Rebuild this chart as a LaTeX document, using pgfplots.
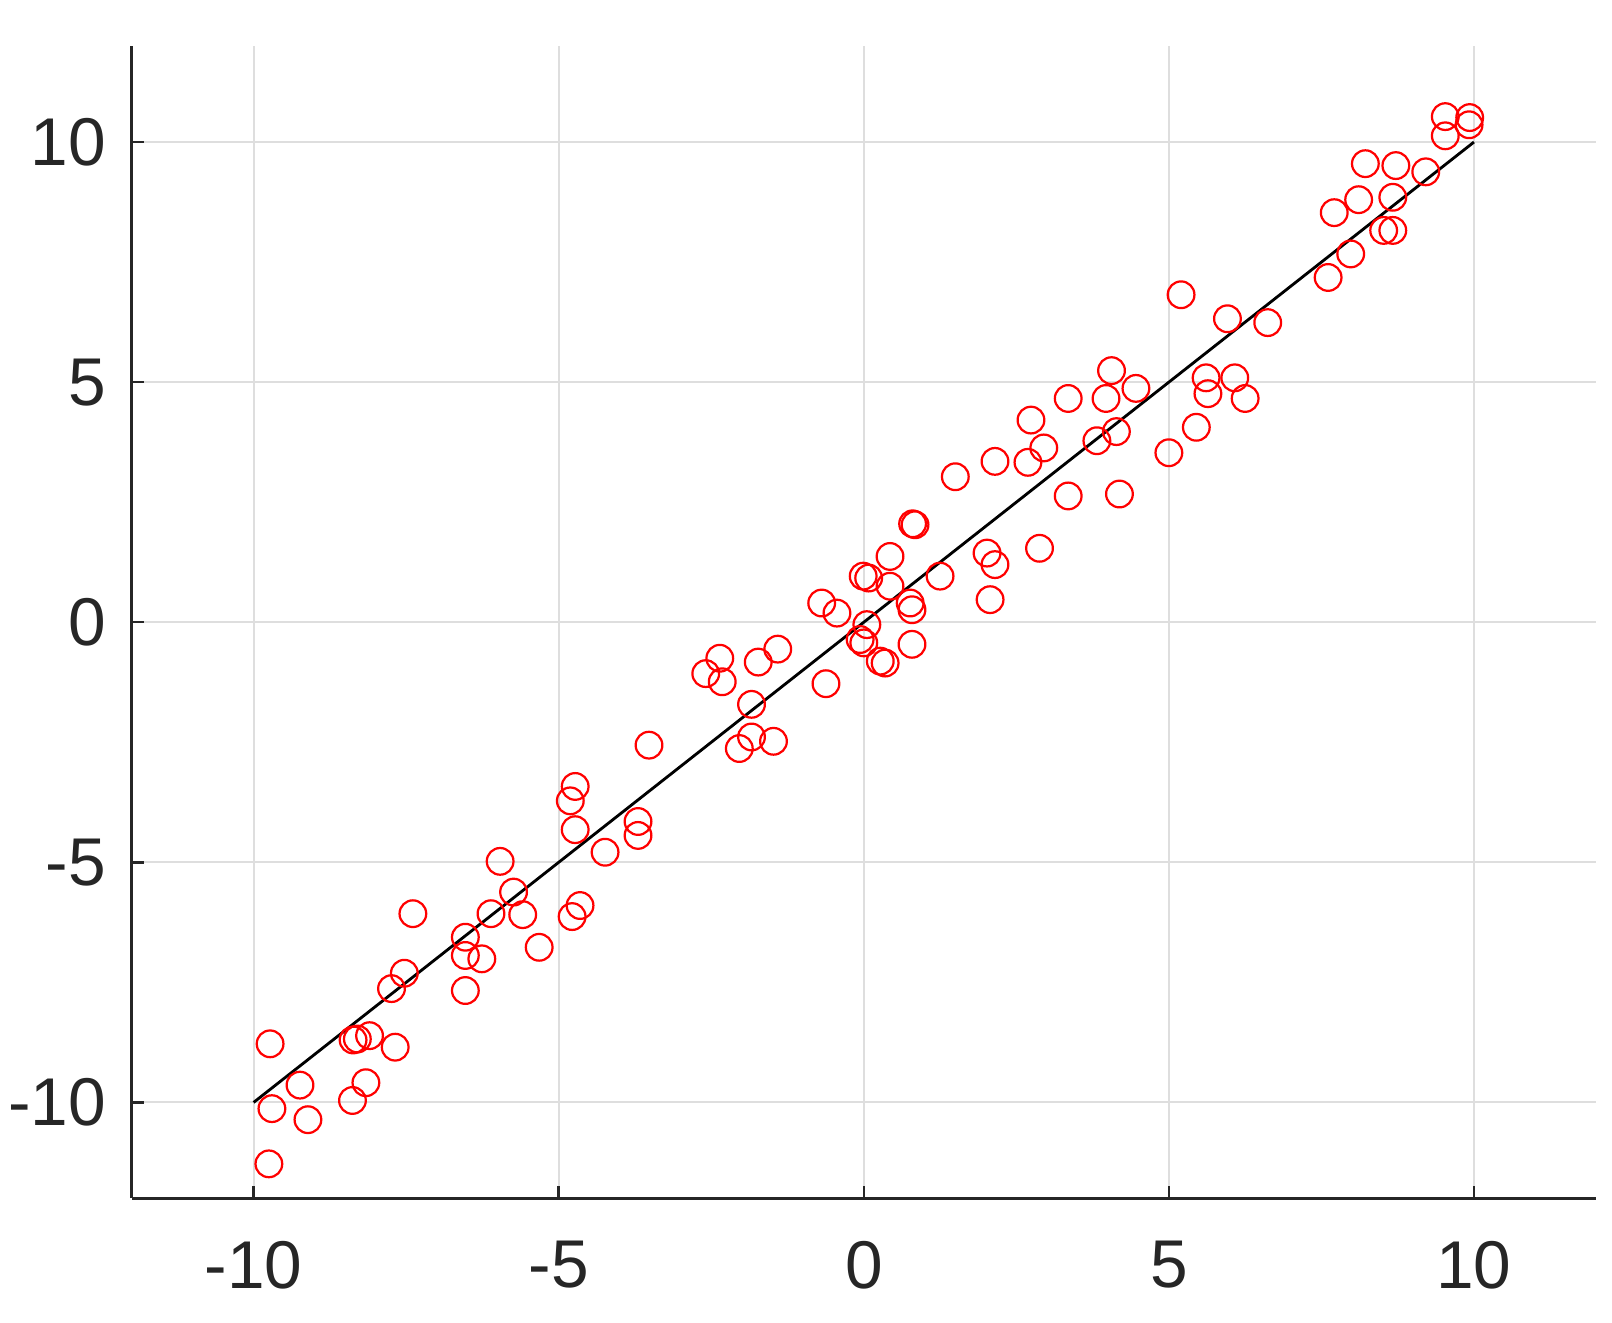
\documentclass[border=0pt]{standalone}
\usepackage{pgfplots}
\pgfplotsset{compat=1.18}
\usepackage{fontspec}
\setmainfont{Liberation Sans}
\definecolor{axgray}{RGB}{38,38,38}
\definecolor{gridgray}{RGB}{222,222,222}
\begin{document}
\fontsize{16.7}{20}\selectfont
\begin{tikzpicture}
\begin{axis}[name=ax, scale only axis, width=12.72cm, height=10.01cm,
  xmin=-12, xmax=12, ymin=-12, ymax=12,
  axis x line=bottom, axis y line=left,
  axis line style={-, line width=0.6pt, draw=axgray},
  xtick={-10,-5,0,5,10}, ytick={-10,-5,0,5,10},
  xtick pos=bottom, ytick pos=left,
  grid=major, grid style={line width=0.5pt, draw=gridgray},
  tick align=inside, major tick length=0.11cm,
  tick style={line width=0.6pt, draw=axgray},
  ticklabel style={font=\fontsize{16.7}{20}\selectfont, text=axgray},
  /pgf/number format/assume math mode=true,
  xticklabel style={yshift=-0.17cm},
  yticklabel style={xshift=-0.02cm},
]
\addplot[only marks, mark=o, mark size=3.3pt, mark options={draw=red, line width=0.55pt}] table {
x y
-9.73 -8.78
-9.70 -10.13
-9.75 -11.28
-9.24 -9.64
-9.11 -10.36
-8.38 -9.96
-8.37 -8.70
-8.30 -8.68
-8.16 -9.59
-8.10 -8.61
-7.68 -8.85
-7.74 -7.63
-7.53 -7.31
-7.39 -6.07
-6.53 -6.56
-6.53 -6.94
-6.53 -7.67
-6.26 -7.01
-6.11 -6.07
-5.96 -4.98
-5.74 -5.62
-5.59 -6.09
-5.32 -6.77
-4.81 -3.72
-4.73 -3.42
-4.73 -4.32
-4.78 -6.13
-4.65 -5.90
-4.24 -4.79
-3.70 -4.15
-3.70 -4.44
-3.52 -2.56
-2.59 -1.07
-2.36 -0.75
-2.32 -1.24
-2.04 -2.63
-1.84 -2.39
-1.84 -1.71
-1.73 -0.83
-1.48 -2.48
-1.41 -0.56
-0.69 0.40
-0.44 0.19
-0.62 -1.28
-0.06 -0.36
-0.01 0.96
0.08 0.92
0.05 -0.05
0.00 -0.43
0.27 -0.81
0.35 -0.85
0.43 1.37
0.43 0.75
0.76 0.40
0.79 0.26
0.79 -0.46
0.80 2.05
0.84 2.03
1.25 0.96
1.50 3.03
2.02 1.44
2.15 1.20
2.07 0.47
2.15 3.35
2.69 3.33
2.74 4.21
2.95 3.63
2.88 1.54
3.35 4.66
3.35 2.63
3.82 3.78
3.97 4.66
4.06 5.24
4.14 3.97
4.19 2.67
4.46 4.87
5.00 3.53
5.20 6.82
5.45 4.06
5.61 5.09
5.64 4.76
5.96 6.32
6.08 5.09
6.25 4.66
6.62 6.24
7.61 7.18
7.71 8.53
7.98 7.67
8.11 8.80
8.22 9.55
8.52 8.16
8.67 8.16
8.67 8.85
8.72 9.51
9.21 9.38
9.53 10.13
9.53 10.53
9.92 10.36
9.93 10.51
};
\addplot[black, line width=0.7pt] coordinates {(-10,-10) (10,10)};
\end{axis}
\pgfresetboundingbox
\path[use as bounding box] ([shift={(-1.143cm,-1.077cm)}]ax.south west) rectangle ([shift={(0.139cm,0.40cm)}]ax.north east);
\end{tikzpicture}
\end{document}
